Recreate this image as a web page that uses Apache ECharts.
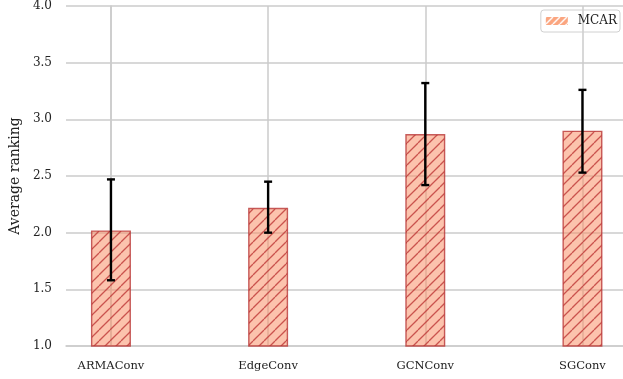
<!DOCTYPE html>
<html>
<head>
<meta charset="utf-8">
<script src="https://cdn.jsdelivr.net/npm/echarts@6/dist/echarts.min.js"></script>
<style>
html,body{margin:0;padding:0;background:#fff;}
#chart{width:623px;height:379px;}
</style>
</head>
<body>
<div id="chart"></div>
<script>
// ---- data ----
var categories = ['ARMAConv', 'EdgeConv', 'GCNConv', 'SGConv'];
var meanRank = [2.02, 2.22, 2.87, 2.90];
var errLow = [1.58, 2.00, 2.42, 2.53];
var errHigh = [2.47, 2.45, 3.32, 3.26];
var yTicks = [1.0, 1.5, 2.0, 2.5, 3.0, 3.5, 4.0];
var seriesName = 'MCAR';

function makeHatch(bg, line, size, lw) {
  var c = document.createElement('canvas');
  c.width = size; c.height = size;
  var ctx = c.getContext('2d');
  ctx.fillStyle = bg;
  ctx.fillRect(0, 0, size, size);
  ctx.strokeStyle = line;
  ctx.lineWidth = lw;
  for (var k = -1; k <= 1; k++) {
    ctx.beginPath();
    ctx.moveTo(k * size, size);
    ctx.lineTo(k * size + size, 0);
    ctx.stroke();
  }
  return c;
}
var barPattern = {image: makeHatch('rgba(250,145,105,0.55)', 'rgba(190,55,55,0.8)', 11, 1.3), repeat: 'repeat'};
var legendPattern = {image: makeHatch('#fba57f', '#ffffff', 7, 1.4), repeat: 'repeat'};

var chart = echarts.init(document.getElementById('chart'), null, {renderer: 'canvas'});
var serif = 'DejaVu Serif';
var barData = meanRank.map(function (v, i) { return [i, v]; });
var errData = meanRank.map(function (v, i) { return [i, errLow[i], errHigh[i]]; });

chart.setOption({
  animation: false,
  backgroundColor: '#ffffff',
  grid: {left: 66, right: 0, top: 5, bottom: 33, containLabel: false},
  legend: {
    right: 3, top: 10,
    data: [{name: seriesName, icon: 'rect', itemStyle: {color: legendPattern, borderWidth: 0}}],
    itemWidth: 22, itemHeight: 8, itemGap: 10,
    borderColor: '#d0d0d0', borderWidth: 1, borderRadius: 3,
    padding: [5, 3, 5, 5],
    textStyle: {fontFamily: serif, fontSize: 12, color: '#222', padding: [0, 0, 0, 5]}
  },
  xAxis: {
    type: 'value',
    min: -0.286, max: 3.258,
    axisLine: {show: true, lineStyle: {color: '#cbcbcb', width: 1.5}},
    axisTick: {show: false, customValues: [0, 1, 2, 3]},
    axisLabel: {
      customValues: [0, 1, 2, 3],
      formatter: function (v) { return categories[Math.round(v)]; },
      fontFamily: serif, fontSize: 11.5, color: '#222', margin: 14
    },
    splitLine: {show: true, lineStyle: {color: '#cbcbcb', width: 1.5}}
  },
  yAxis: {
    type: 'value',
    min: 1.0, max: 4.0, interval: 0.5,
    name: 'Average ranking',
    nameLocation: 'middle', nameGap: 43,
    nameTextStyle: {fontFamily: serif, fontSize: 14, color: '#222'},
    axisLine: {show: true, lineStyle: {color: '#cbcbcb', width: 1.5}},
    axisTick: {show: false},
    axisLabel: {
      formatter: function (v) { return v.toFixed(1); },
      fontFamily: serif, fontSize: 12, color: '#222', margin: 14
    },
    splitLine: {show: true, lineStyle: {color: '#cbcbcb', width: 1.5}}
  },
  series: [
    {
      name: seriesName,
      type: 'bar',
      data: barData,
      barWidth: 40,
      itemStyle: {color: barPattern, borderColor: 'rgba(185,55,55,0.8)', borderWidth: 1.4},
      z: 2
    },
    {
      name: 'err',
      type: 'custom',
      data: errData,
      z: 5,
      renderItem: function (params, api) {
        var x = api.value(0);
        var lo = api.coord([x, api.value(1)]);
        var hi = api.coord([x, api.value(2)]);
        var cap = 4;
        var style = {stroke: '#000', lineWidth: 2.4};
        return {
          type: 'group',
          children: [
            {type: 'line', shape: {x1: lo[0], y1: lo[1], x2: hi[0], y2: hi[1]}, style: style},
            {type: 'line', shape: {x1: lo[0] - cap, y1: lo[1], x2: lo[0] + cap, y2: lo[1]}, style: style},
            {type: 'line', shape: {x1: hi[0] - cap, y1: hi[1], x2: hi[0] + cap, y2: hi[1]}, style: style}
          ]
        };
      }
    }
  ]
});
</script>
</body>
</html>
